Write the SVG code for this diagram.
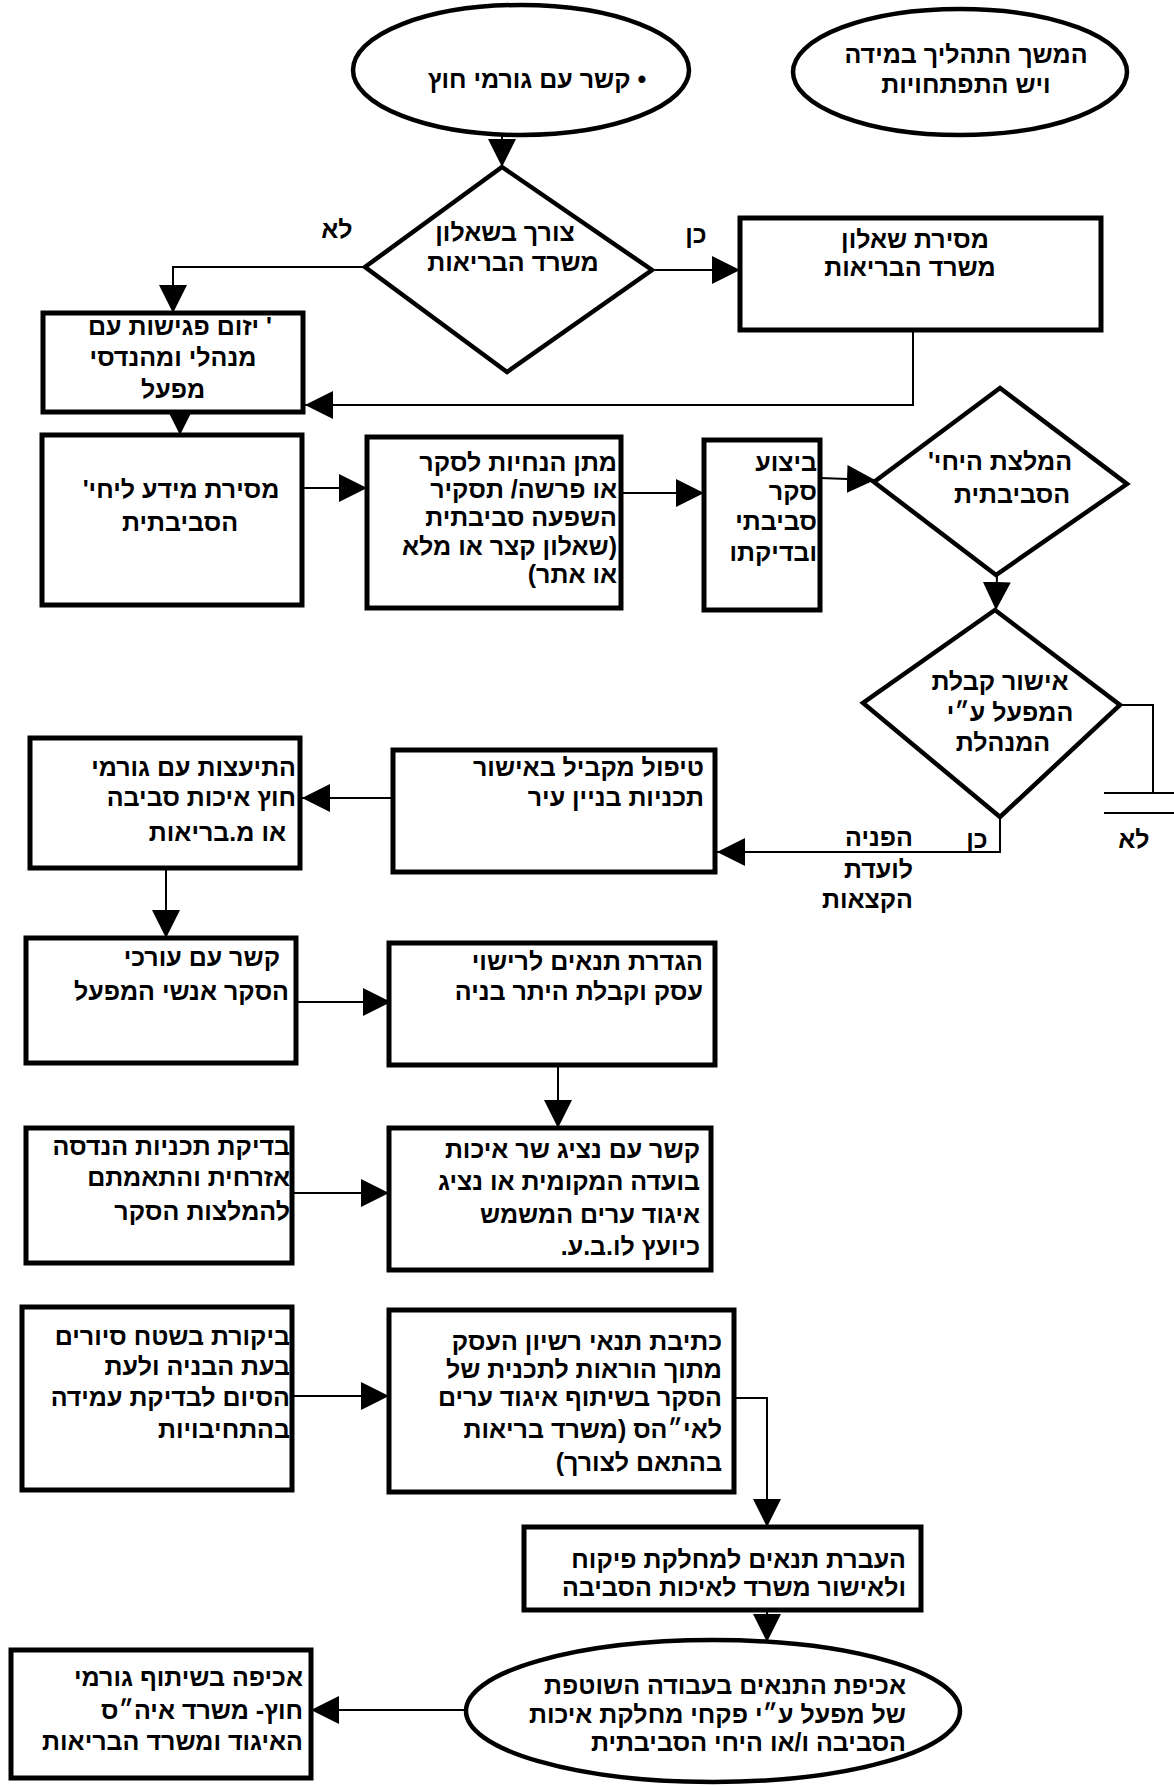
<svg xmlns="http://www.w3.org/2000/svg" width="1174" height="1786" viewBox="0 0 1174 1786">
<style>
  .shape{fill:#fff;stroke:#000;stroke-width:4.5}
  .box{fill:#fff;stroke:#000;stroke-width:5}
  .conn{fill:none;stroke:#000;stroke-width:2}
  .arr{marker-end:url(#ah)}
  text{font-family:"Liberation Sans","DejaVu Sans",sans-serif;font-size:25px;font-weight:bold;fill:#000;direction:rtl}
  .r{text-anchor:start}
  .m{text-anchor:middle}
</style>
<defs>
  <marker id="ah" viewBox="0 0 10 10" refX="10" refY="5" markerWidth="28" markerHeight="28" markerUnits="userSpaceOnUse" orient="auto">
    <path d="M0,0 L10,5 L0,10 z" fill="#000"/>
  </marker>
</defs>
<rect width="1174" height="1786" fill="#fff"/>

<g id="connectors">
  <path class="conn arr" d="M502,135 L502,167"/>
  <path class="conn arr" d="M652,270 L740,270"/>
  <path class="conn arr" d="M365,267 L173,267 L173,313"/>
  <path class="conn arr" d="M913,330 L913,405 L305,405"/>
  <path class="conn arr" d="M180,412 L180,435"/>
  <path class="conn arr" d="M302,488 L367,488"/>
  <path class="conn arr" d="M621,493 L704,493"/>
  <path class="conn arr" d="M820,478 L875,480"/>
  <path class="conn arr" d="M997,575 L996,610"/>
  <path class="conn" d="M1120,705 L1153,705 L1153,793"/>
  <path class="conn" d="M1104,793 L1174,793"/>
  <path class="conn" d="M1104,813 L1174,813"/>
  <path class="conn arr" d="M1000,817 L1000,852 L717,852"/>
  <path class="conn arr" d="M393,798 L302,798"/>
  <path class="conn arr" d="M166,868 L166,938"/>
  <path class="conn arr" d="M296,1002 L391,1002"/>
  <path class="conn arr" d="M558,1065 L558,1128"/>
  <path class="conn arr" d="M292,1193 L389,1193"/>
  <path class="conn arr" d="M292,1396 L389,1396"/>
  <path class="conn arr" d="M734,1398 L767,1398 L767,1527"/>
  <path class="conn arr" d="M767,1610 L767,1642"/>
  <path class="conn arr" d="M468,1710 L311,1710"/>
</g>

<g id="start">
  <ellipse class="shape" cx="521" cy="70" rx="168" ry="65"/>
  <text class="m" x="537" y="88">• קשר עם גורמי חוץ</text>
</g>
<g id="continue">
  <ellipse class="shape" cx="960" cy="72" rx="167" ry="63"/>
  <text class="m" x="966" y="63">המשך התהליך במידה</text>
  <text class="m" x="966" y="93">ויש התפתחויות</text>
</g>
<g id="need-questionnaire">
  <polygon class="shape" points="502,167 652,270 507,372 365,267"/>
  <text class="m" x="505" y="241">צורך בשאלון</text>
  <text class="m" x="513" y="271">משרד הבריאות</text>
</g>
<g id="labels-top">
  <text class="m" x="337" y="238">לא</text>
  <text class="m" x="696" y="243">כן</text>
</g>
<g id="send-questionnaire">
  <rect class="box" x="740" y="218" width="361" height="112"/>
  <text class="m" x="915" y="248">מסירת שאלון</text>
  <text class="m" x="910" y="276">משרד הבריאות</text>
</g>
<g id="initiate-meetings">
  <rect class="box" x="43" y="313" width="260" height="99"/>
  <text class="m" x="180" y="335">' יזום פגישות עם</text>
  <text class="m" x="173" y="366">מנהלי ומהנדסי</text>
  <text class="m" x="173" y="398">מפעל</text>
</g>
<g id="info-unit">
  <rect class="box" x="42" y="435" width="260" height="170"/>
  <text class="m" x="181" y="498">מסירת מידע ליחי'</text>
  <text class="m" x="180" y="531">הסביבתית</text>
</g>
<g id="guidelines">
  <rect class="box" x="367" y="437" width="254" height="171"/>
  <text class="r" x="617" y="471">מתן הנחיות לסקר</text>
  <text class="r" x="617" y="498">או פרשה/ תסקיר</text>
  <text class="r" x="617" y="526">השפעה סביבתית</text>
  <text class="r" x="617" y="555">(שאלון קצר או מלא</text>
  <text class="r" x="617" y="583">או אתר)</text>
</g>
<g id="survey">
  <rect class="box" x="704" y="440" width="116" height="170"/>
  <text class="r" x="817" y="471">ביצוע</text>
  <text class="r" x="817" y="500">סקר</text>
  <text class="r" x="817" y="530">סביבתי</text>
  <text class="r" x="817" y="561">ובדיקתו</text>
</g>
<g id="unit-recommendation">
  <polygon class="shape" points="1000,388 1127,484 996,575 874,482"/>
  <text class="m" x="1000" y="470">המלצת היחי'</text>
  <text class="m" x="1012" y="503">הסביבתית</text>
</g>
<g id="management-approval">
  <polygon class="shape" points="995,610 1120,705 1000,817 863,703"/>
  <text class="m" x="1000" y="690">אישור קבלת</text>
  <text class="m" x="1010" y="721">המפעל ע״י</text>
  <text class="m" x="1003" y="751">המנהלת</text>
</g>
<g id="labels-mid">
  <text class="m" x="1134" y="848">לא</text>
  <text class="m" x="977" y="848">כן</text>
  <text class="r" x="913" y="846">הפניה</text>
  <text class="r" x="913" y="878">לועדת</text>
  <text class="r" x="913" y="908">הקצאות</text>
</g>
<g id="parallel-handling">
  <rect class="box" x="393" y="750" width="322" height="122"/>
  <text class="r" x="704" y="776">טיפול מקביל באישור</text>
  <text class="r" x="704" y="806">תכניות בניין עיר</text>
</g>
<g id="consult">
  <rect class="box" x="30" y="738" width="270" height="130"/>
  <text class="r" x="296" y="776">התיעצות עם גורמי</text>
  <text class="r" x="296" y="806">חוץ איכות סביבה</text>
  <text class="r" x="286" y="841">או מ.בריאות</text>
</g>
<g id="contact-surveyors">
  <rect class="box" x="26" y="938" width="270" height="125"/>
  <text class="r" x="280" y="966">קשר עם עורכי</text>
  <text class="r" x="289" y="1000">הסקר אנשי המפעל</text>
</g>
<g id="define-conditions">
  <rect class="box" x="389" y="943" width="326" height="122"/>
  <text class="r" x="703" y="970">הגדרת תנאים לרישוי</text>
  <text class="r" x="703" y="1000">עסק וקבלת היתר בניה</text>
</g>
<g id="contact-rep">
  <rect class="box" x="389" y="1128" width="322" height="142"/>
  <text class="r" x="700" y="1158">קשר עם נציג שר איכות</text>
  <text class="r" x="700" y="1190">בועדה המקומית או נציג</text>
  <text class="r" x="700" y="1223">איגוד ערים המשמש</text>
  <text class="r" x="700" y="1255">כיועץ לו.ב.ע.</text>
</g>
<g id="check-plans">
  <rect class="box" x="26" y="1128" width="266" height="135"/>
  <text class="r" x="290" y="1155">בדיקת תכניות הנדסה</text>
  <text class="r" x="290" y="1186">אזרחית והתאמתם</text>
  <text class="r" x="290" y="1220">להמלצות הסקר</text>
</g>
<g id="inspection">
  <rect class="box" x="22" y="1307" width="270" height="183"/>
  <text class="r" x="290" y="1345">ביקורת בשטח סיורים</text>
  <text class="r" x="290" y="1375">בעת הבניה ולעת</text>
  <text class="r" x="290" y="1406">הסיום לבדיקת עמידה</text>
  <text class="r" x="290" y="1438">בהתחיבויות</text>
</g>
<g id="write-conditions">
  <rect class="box" x="389" y="1310" width="345" height="182"/>
  <text class="r" x="722" y="1350">כתיבת תנאי רשיון העסק</text>
  <text class="r" x="722" y="1378">מתוך הוראות לתכנית של</text>
  <text class="r" x="722" y="1406">הסקר בשיתוף איגוד ערים</text>
  <text class="r" x="722" y="1438">לאי״הס (משרד בריאות</text>
  <text class="r" x="722" y="1471">בהתאם לצורך)</text>
</g>
<g id="transfer-conditions">
  <rect class="box" x="524" y="1527" width="397" height="83"/>
  <text class="r" x="906" y="1568">העברת תנאים למחלקת פיקוח</text>
  <text class="r" x="906" y="1596">ולאישור משרד לאיכות הסביבה</text>
</g>
<g id="enforcement">
  <ellipse class="shape" cx="713" cy="1711" rx="247" ry="71"/>
  <text class="r" x="906" y="1694">אכיפת התנאים בעבודה השוטפת</text>
  <text class="r" x="906" y="1723">של מפעל ע״י פקחי מחלקת איכות</text>
  <text class="r" x="906" y="1751">הסביבה ו/או היחי הסביבתית</text>
</g>
<g id="joint-enforcement">
  <rect class="box" x="11" y="1650" width="300" height="128"/>
  <text class="r" x="303" y="1686">אכיפה בשיתוף גורמי</text>
  <text class="r" x="303" y="1719">חוץ- משרד איה״ס</text>
  <text class="r" x="303" y="1750">האיגוד ומשרד הבריאות</text>
</g>
</svg>
